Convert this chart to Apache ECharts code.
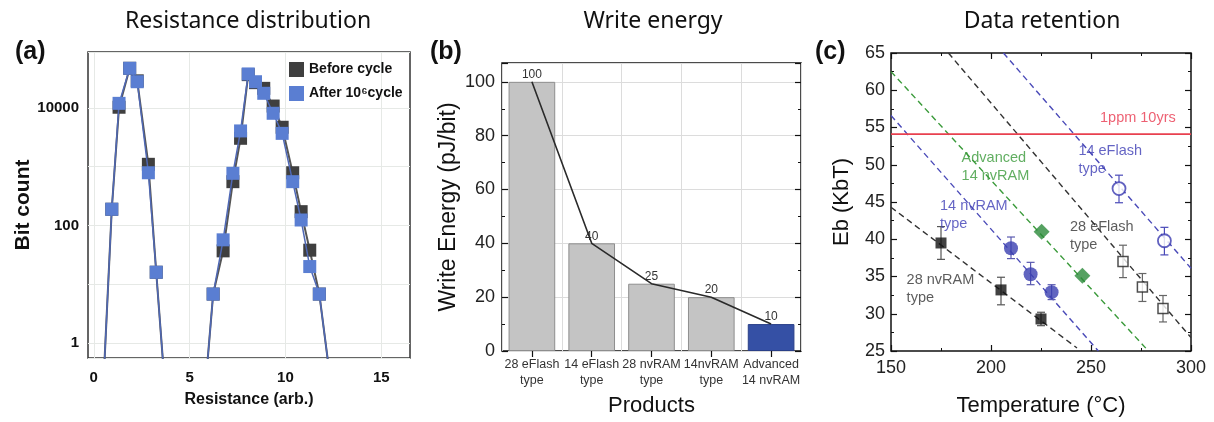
<!DOCTYPE html>
<html>
<head>
<meta charset="UTF-8">
<title>Resistance / Write energy / Data retention</title>
<style>
    html, body { margin: 0; padding: 0; background: #fff; }
    #main { width: 1214px; height: 422px; }
</style>
</head>
<body>
<div id="main"></div>
<script src="https://cdn.jsdelivr.net/npm/echarts@6/dist/echarts.min.js"></script>
<script>
    // (a) resistance distribution, two peaks (ends drop below the axis and get clipped)
    var resistance = [0.46, 0.94, 1.32, 1.875, 2.27, 2.85, 3.26, 3.77,
        5.76, 6.23, 6.75, 7.26, 7.66, 8.06, 8.44, 8.87, 9.36, 9.83, 10.38, 10.82, 11.27, 11.77, 12.49];
    var beforeCycle = [0.1, 189, 10300, 47400, 29000, 1100, 16, 0.1,
        0.1, 6.8, 37, 557, 3050, 37000, 27000, 21600, 10800, 4700, 790, 172, 38, 6.8, 0.1];
    var afterCycle = [0.1, 189, 12000, 47400, 28000, 790, 16, 0.1,
        0.1, 6.8, 57, 773, 4070, 38000, 28000, 17800, 8130, 3700, 557, 124, 20, 6.8, 0.1];
    var countLabels = [1, 100, 10000];
    var resistanceTicks = [0, 5, 10, 15];

    // (b) write energy
    var products = ['28 eFlash\ntype', '14 eFlash\ntype', '28 nvRAM\ntype', '14nvRAM\ntype', 'Advanced\n14 nvRAM'];
    var writeEnergy = [100, 40, 25, 20, 10];

    // (c) data retention: [temperature, Eb]
    var nvram28 = [[175, 39.5], [205, 33.2], [225, 29.3]];
    var nvram28Err = [[175, 37.3, 41.7], [205, 31.2, 34.9], [225, 28.4, 30.2]];
    var eflash28 = [[266, 37.0], [275.7, 33.6], [286, 30.7]];
    var eflash28Err = [[266, 34.85, 39.2], [275.7, 31.65, 35.4], [286, 28.9, 32.45]];
    var nvram14 = [[210, 38.8], [219.8, 35.3], [230.3, 32.9]];
    var nvram14Err = [[210, 37.4, 40.3], [219.8, 33.9, 36.9], [230.3, 31.9, 33.9]];
    var advanced14 = [[225.3, 41.0], [245.7, 35.1]];
    var eflash14 = [[264, 46.8], [286.7, 39.8]];
    var eflash14Err = [[264, 44.9, 48.6], [286.7, 37.9, 41.6]];
    // dashed guide lines (end points)
    var fitNvram28 = [[150, 44.3], [243, 25.4]];
    var fitNvram14 = [[150, 56.6], [253.7, 25]];
    var fitAdvanced = [[150, 62.5], [278.7, 25]];
    var fitEflash28 = [[178.7, 65], [300, 26.8]];
    var fitEflash14 = [[206.2, 65], [300, 36.1]];
    var limitLine = [[150, 54.1], [300, 54.1]];
    // annotations: [temperature, Eb, text, colour]
    var notes = [
        [254.5, 56.3, '1ppm 10yrs', '#e8384f'],
        [185.3, 49.7, 'Advanced\n14 nvRAM', '#3a9a3a'],
        [243.7, 50.6, '14 eFlash\ntype', '#3d3db5'],
        [174.5, 43.2, '14 nvRAM\ntype', '#3d3db5'],
        [239.5, 40.5, '28 eFlash\ntype', '#333'],
        [157.8, 33.3, '28 nvRAM\ntype', '#333']
    ];

    var ARIAL = '"Liberation Sans", Arial, sans-serif';
    var TITLE_FONT = '"Noto Sans", sans-serif';

    function pairs(xs, ys) {
        return xs.map(function (x, i) { return [x, ys[i]]; });
    }

    function errorBars(color) {
        return function (params, api) {
            var lo = api.coord([api.value(0), api.value(1)]);
            var hi = api.coord([api.value(0), api.value(2)]);
            var w = 4;
            var st = { stroke: color, lineWidth: 1.2 };
            return {
                type: 'group',
                children: [
                    { type: 'line', shape: { x1: lo[0], y1: lo[1], x2: hi[0], y2: hi[1] }, style: st },
                    { type: 'line', shape: { x1: lo[0] - w, y1: lo[1], x2: lo[0] + w, y2: lo[1] }, style: st },
                    { type: 'line', shape: { x1: hi[0] - w, y1: hi[1], x2: hi[0] + w, y2: hi[1] }, style: st }
                ]
            };
        };
    }

    function dashed(data, color) {
        return {
            type: 'line', xAxisIndex: 3, yAxisIndex: 3, data: data, symbol: 'none', silent: true,
            lineStyle: { color: color, width: 1.4, type: [6, 4] }, z: 1
        };
    }

    function errSeries(data, color) {
        return { type: 'custom', xAxisIndex: 3, yAxisIndex: 3, data: data, renderItem: errorBars(color), z: 2, silent: true };
    }

    var insideTick = { show: true, inside: true, length: 6, lineStyle: { color: '#111', width: 1.2 } };
    var insideMinor = { show: true, splitNumber: 2, length: 3, lineStyle: { color: '#111', width: 1 } };

    var myChart = echarts.init(document.getElementById('main'));

    var option = {
        animation: false,
        backgroundColor: '#fff',
        title: [
            { text: 'Resistance distribution', left: 243, top: 5, textAlign: 'center',
              textStyle: { fontFamily: TITLE_FONT, fontWeight: 'normal', fontSize: 23, color: '#111' } },
            { text: 'Write energy', left: 648, top: 5, textAlign: 'center',
              textStyle: { fontFamily: TITLE_FONT, fontWeight: 'normal', fontSize: 23, color: '#111' } },
            { text: 'Data retention', left: 1037, top: 5, textAlign: 'center',
              textStyle: { fontFamily: TITLE_FONT, fontWeight: 'normal', fontSize: 23, color: '#111' } },
            { text: '(a)', left: 10, top: 35, textStyle: { fontFamily: ARIAL, fontWeight: 'bold', fontSize: 25, color: '#111' } },
            { text: '(b)', left: 425, top: 35, textStyle: { fontFamily: ARIAL, fontWeight: 'bold', fontSize: 25, color: '#111' } },
            { text: '(c)', left: 810, top: 35, textStyle: { fontFamily: ARIAL, fontWeight: 'bold', fontSize: 25, color: '#111' } }
        ],
        legend: {
            left: 284, top: 57, orient: 'vertical', itemWidth: 15, itemHeight: 15, itemGap: 9,
            icon: 'rect',
            textStyle: { fontFamily: ARIAL, fontWeight: 'bold', fontSize: 14, color: '#111' },
            data: ['Before cycle', 'After 10\u2076cycle']
        },
        grid: [
            { left: 88, right: 804, top: 52, bottom: 64, show: true, borderColor: '#333', borderWidth: 1.5 },
            { left: 502, right: 413, top: 63, bottom: 69, show: true, borderColor: '#111', borderWidth: 1.5 },
            { left: 891, right: 23, top: 53, bottom: 69, show: true, borderColor: '#111', borderWidth: 1.5 }
        ],
        xAxis: [
            { type: 'value', gridIndex: 0, min: -0.3, max: 16.5,
              name: 'Resistance (arb.)', nameLocation: 'middle', nameGap: 34,
              nameTextStyle: { fontFamily: ARIAL, fontWeight: 'bold', fontSize: 16, color: '#111' },
              axisLine: { show: false }, axisTick: { show: false, customValues: resistanceTicks },
              axisLabel: { customValues: resistanceTicks, margin: 12, fontFamily: ARIAL, fontWeight: 'bold', fontSize: 15, color: '#111' },
              splitLine: { show: true, lineStyle: { color: '#e6e9e6' } } },
            { type: 'category', gridIndex: 1, data: products,
              name: 'Products', nameLocation: 'middle', nameGap: 44,
              nameTextStyle: { fontFamily: ARIAL, fontSize: 22, color: '#111' },
              axisLine: { show: false }, axisTick: { show: true, inside: true, alignWithLabel: true, length: 6, lineStyle: { color: '#111', width: 1.2 } },
              axisLabel: { interval: 0, margin: 6, fontFamily: ARIAL, fontSize: 12.5, lineHeight: 16, color: '#333' },
              splitLine: { show: true, interval: 0, lineStyle: { color: '#dcdcdc' } } },
            { type: 'category', gridIndex: 1, data: products, position: 'top',
              axisLine: { show: false }, axisTick: { show: true, interval: 0, inside: true, alignWithLabel: true, length: 6, lineStyle: { color: '#111', width: 1.2 } },
              axisLabel: { show: false, interval: 0 }, splitLine: { show: false } },
            { type: 'value', gridIndex: 2, min: 150, max: 300, interval: 50,
              name: 'Temperature (\u00b0C)', nameLocation: 'middle', nameGap: 44,
              nameTextStyle: { fontFamily: ARIAL, fontSize: 22, color: '#111' },
              axisLine: { show: false }, axisTick: insideTick, minorTick: insideMinor,
              axisLabel: { margin: 8, fontFamily: ARIAL, fontSize: 18, color: '#222' },
              splitLine: { show: false } },
            { type: 'value', gridIndex: 2, min: 150, max: 300, interval: 50, position: 'top',
              axisLine: { show: false }, axisTick: insideTick, minorTick: insideMinor,
              axisLabel: { show: false }, splitLine: { show: false } }
        ],
        yAxis: [
            { type: 'log', gridIndex: 0, min: 0.555, max: 89800,
              name: 'Bit count', nameLocation: 'middle', nameGap: 48,
              nameTextStyle: { fontFamily: ARIAL, fontWeight: 'bold', fontSize: 21, color: '#111' },
              axisLine: { show: false }, axisTick: { show: false },
              axisLabel: { margin: 9, fontFamily: ARIAL, fontWeight: 'bold', fontSize: 15, color: '#111',
                  formatter: function (v) {
                      for (var i = 0; i < countLabels.length; i++) {
                          if (Math.abs(v - countLabels[i]) < 1e-6 * countLabels[i]) return String(countLabels[i]);
                      }
                      return '';
                  } },
              splitLine: { show: true, lineStyle: { color: '#e6e9e6' } } },
            { type: 'value', gridIndex: 1, min: 0, max: 107, interval: 20,
              name: 'Write Energy (pJ/bit)', nameLocation: 'middle', nameGap: 42,
              nameTextStyle: { fontFamily: ARIAL, fontSize: 23, color: '#111' },
              axisLine: { show: false }, axisTick: insideTick, minorTick: insideMinor,
              axisLabel: { margin: 7, fontFamily: ARIAL, fontSize: 18, color: '#222', showMaxLabel: false,
                  formatter: function (v) { return v % 20 === 0 ? String(v) : ''; } },
              splitLine: { show: true, lineStyle: { color: '#dcdcdc' } } },
            { type: 'value', gridIndex: 1, min: 0, max: 107, interval: 20, position: 'right',
              axisLine: { show: false }, axisTick: insideTick, minorTick: insideMinor,
              axisLabel: { show: false }, splitLine: { show: false } },
            { type: 'value', gridIndex: 2, min: 25, max: 65, interval: 5,
              name: 'Eb (KbT)', nameLocation: 'middle', nameGap: 38,
              nameTextStyle: { fontFamily: ARIAL, fontSize: 22, color: '#111' },
              axisLine: { show: false }, axisTick: insideTick, minorTick: insideMinor,
              axisLabel: { margin: 6, fontFamily: ARIAL, fontSize: 18, color: '#222' },
              splitLine: { show: false } },
            { type: 'value', gridIndex: 2, min: 25, max: 65, interval: 5, position: 'right',
              axisLine: { show: false }, axisTick: insideTick, minorTick: insideMinor,
              axisLabel: { show: false }, splitLine: { show: false } }
        ],
        series: [
            // (a)
            { name: 'Before cycle', type: 'line', xAxisIndex: 0, yAxisIndex: 0, data: pairs(resistance, beforeCycle),
              symbol: 'rect', symbolSize: 13, clip: true,
              itemStyle: { color: '#3f3f3f' }, lineStyle: { color: '#555', width: 2 }, z: 2 },
            { name: 'After 10\u2076cycle', type: 'line', xAxisIndex: 0, yAxisIndex: 0, data: pairs(resistance, afterCycle),
              symbol: 'rect', symbolSize: 13, clip: true,
              itemStyle: { color: '#5a7ed2' }, lineStyle: { color: '#4f68b5', width: 1.5 }, z: 3 },

            // (b)
            { type: 'bar', xAxisIndex: 1, yAxisIndex: 1, barWidth: '78%',
              data: writeEnergy.map(function (v, i) {
                  return i === writeEnergy.length - 1 ? { value: v, itemStyle: { color: '#3550a5', borderColor: '#2a3f88' } } : v;
              }),
              itemStyle: { color: '#c4c4c4', borderColor: '#8e8e8e', borderWidth: 1 },
              label: { show: true, position: 'top', distance: 1, fontFamily: ARIAL, fontSize: 12, color: '#333' } },
            { type: 'line', xAxisIndex: 1, yAxisIndex: 1, data: writeEnergy, symbol: 'none',
              lineStyle: { color: '#2a2a2a', width: 1.6 }, z: 3 },

            // (c) guide lines
            dashed(fitNvram28, '#333'),
            dashed(fitNvram14, '#4a4ab8'),
            dashed(fitAdvanced, '#3a9a3a'),
            dashed(fitEflash28, '#333'),
            dashed(fitEflash14, '#4a4ab8'),
            { type: 'line', xAxisIndex: 3, yAxisIndex: 3, data: limitLine, symbol: 'none', silent: true,
              lineStyle: { color: '#e8404f', width: 1.8 }, z: 1 },
            // error bars
            errSeries(nvram28Err, '#555'),
            errSeries(eflash28Err, '#666'),
            errSeries(nvram14Err, '#5a5ab0'),
            errSeries(eflash14Err, '#4a4ab8'),
            // markers
            { type: 'scatter', xAxisIndex: 3, yAxisIndex: 3, data: nvram28, symbol: 'rect', symbolSize: 11,
              itemStyle: { color: '#111' }, z: 4 },
            { type: 'scatter', xAxisIndex: 3, yAxisIndex: 3, data: eflash28, symbol: 'rect', symbolSize: 10,
              itemStyle: { color: '#fff', borderColor: '#222', borderWidth: 1.5 }, z: 4 },
            { type: 'scatter', xAxisIndex: 3, yAxisIndex: 3, data: nvram14, symbol: 'circle', symbolSize: 14,
              itemStyle: { color: '#3a3fb0' }, z: 4 },
            { type: 'scatter', xAxisIndex: 3, yAxisIndex: 3, data: advanced14, symbol: 'diamond', symbolSize: 16,
              itemStyle: { color: '#2b8a3a' }, z: 4 },
            { type: 'scatter', xAxisIndex: 3, yAxisIndex: 3, data: eflash14, symbol: 'circle', symbolSize: 13,
              itemStyle: { color: '#fff', borderColor: '#3a3ab0', borderWidth: 1.8 }, z: 4 },
            // annotations
            { type: 'scatter', xAxisIndex: 3, yAxisIndex: 3, symbolSize: 0, silent: true, z: 5,
              data: notes.map(function (n) {
                  return { value: [n[0], n[1]], label: { color: n[3], formatter: n[2] } };
              }),
              label: { show: true, position: 'right', distance: 0, align: 'left', verticalAlign: 'middle',
                  fontFamily: ARIAL, fontSize: 14.5, lineHeight: 18 } }
        ]
    };

    myChart.setOption(option);
</script>
</body>
</html>
